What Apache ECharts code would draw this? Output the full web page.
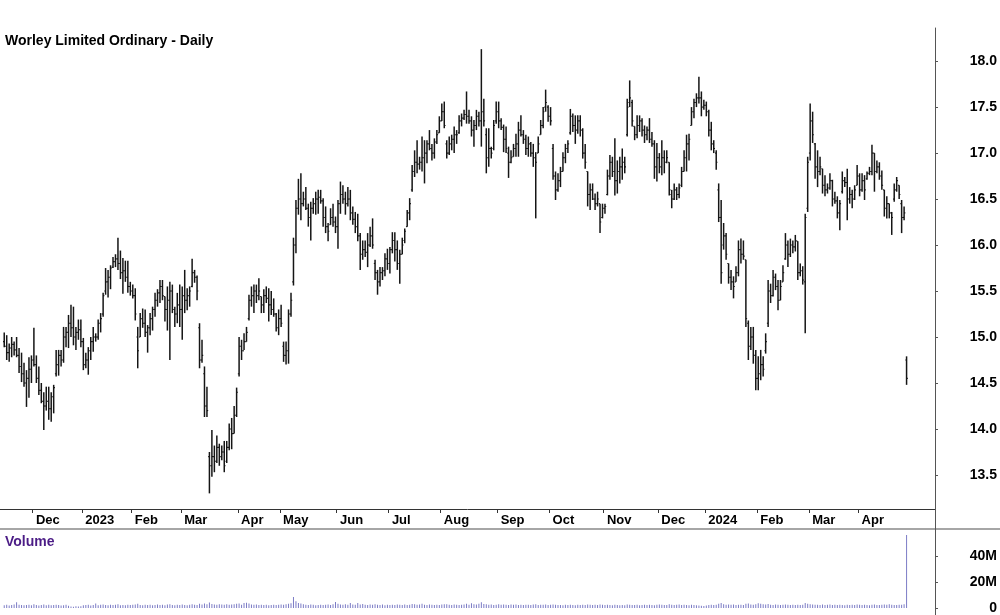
<!DOCTYPE html>
<html><head><meta charset="utf-8">
<script src="https://cdn.jsdelivr.net/npm/echarts@6/dist/echarts.min.js"></script>
<style>html,body{margin:0;padding:0;background:#fff}#c{width:1000px;height:615px}</style>
</head><body><div id="c"></div>
<script>
const chartTitle = 'Worley Limited Ordinary - Daily';
const volumeTitle = 'Volume';
const startDate = '2022-11-15';
const endDate = '2024-04-30';
const padDays = 11;
const holidays = ['2022-12-26','2022-12-27','2023-01-02','2023-01-26','2023-04-07','2023-04-10','2023-04-25','2023-06-12','2023-12-25','2023-12-26','2024-01-01','2024-01-26','2024-03-29','2024-04-01','2024-04-25'];
const monthNames = ['Jan','Feb','Mar','Apr','May','Jun','Jul','Aug','Sep','Oct','Nov','Dec'];
const priceTicks = [13.5,14.0,14.5,15.0,15.5,16.0,16.5,17.0,17.5,18.0];
const volumeTicks = [0,20000000,40000000];
const volumeTickLabels = ['0','20M','40M'];

const high = [
15.05,15.02,14.93,15.00,14.95,15.00,14.88,14.83,14.72,14.64,
14.78,14.80,15.10,14.80,14.68,14.50,14.40,14.46,14.46,14.40,
14.48,14.86,14.86,14.86,15.11,15.11,15.24,15.35,15.33,15.11,
15.19,15.19,14.99,14.83,14.89,15.00,15.11,15.04,15.19,15.26,
15.48,15.75,15.73,15.78,15.87,15.90,16.08,15.94,15.86,15.83,
15.83,15.60,15.57,15.53,15.11,15.26,15.31,15.30,15.13,15.26,
15.33,15.48,15.52,15.62,15.62,15.44,15.55,15.60,15.57,15.33,
15.48,15.57,15.55,15.73,15.53,15.55,15.85,15.73,15.67,15.15,
14.97,14.68,14.46,13.75,13.99,13.82,13.93,13.84,13.82,13.87,
13.87,14.06,14.12,14.25,14.45,15.00,14.97,15.04,15.11,15.46,
15.55,15.57,15.57,15.64,15.44,15.52,15.55,15.53,15.50,15.42,
15.26,15.30,15.35,14.95,14.95,15.30,15.48,16.08,16.49,16.72,
16.78,16.58,16.63,16.45,16.47,16.51,16.58,16.60,16.60,16.51,
16.42,16.24,16.40,16.45,16.31,16.49,16.69,16.65,16.58,16.63,
16.60,16.42,16.36,16.34,16.13,16.05,16.05,16.13,16.20,16.29,
15.84,15.73,15.76,15.76,15.91,15.96,15.98,16.14,16.14,16.05,
15.95,16.08,16.18,16.38,16.51,16.87,17.03,17.14,16.96,17.18,
17.14,17.14,17.25,17.10,17.16,17.25,17.40,17.54,17.56,17.14,
17.18,17.20,17.29,17.25,17.41,17.43,17.47,17.67,17.47,17.40,
17.36,17.47,17.45,18.13,17.59,17.27,17.27,17.07,17.36,17.56,
17.56,17.38,17.31,17.29,17.07,17.03,17.10,17.21,17.34,17.41,
17.25,17.20,17.18,17.12,17.10,17.01,17.18,17.36,17.50,17.69,
17.52,17.50,17.10,16.80,16.78,16.85,17.01,17.10,17.14,17.48,
17.43,17.41,17.41,17.41,17.27,17.10,16.80,16.67,16.67,16.56,
16.58,16.45,16.45,16.45,16.82,16.98,16.96,17.16,16.92,16.96,
17.05,16.96,17.59,17.79,17.58,17.29,17.41,17.41,17.38,17.30,
17.29,17.38,17.23,17.14,17.11,17.00,17.14,17.03,17.03,16.90,
16.60,16.67,16.63,16.67,16.85,17.03,17.20,17.21,17.50,17.59,
17.65,17.83,17.67,17.58,17.56,17.47,17.34,17.14,17.03,16.67,
16.49,16.24,16.13,15.80,15.73,15.66,15.77,16.05,16.07,16.05,
15.84,15.18,15.11,15.11,14.86,14.79,14.86,14.79,15.04,15.62,
15.58,15.73,15.69,15.62,15.62,15.78,16.13,16.05,16.07,16.05,
16.11,16.04,15.80,15.77,16.34,16.96,17.54,17.45,17.11,17.03,
16.96,16.83,16.76,16.67,16.78,16.71,16.58,16.53,16.49,16.80,
16.74,16.83,16.63,16.60,16.65,16.87,16.78,16.78,16.76,16.80,
16.85,17.09,17.00,16.92,16.90,16.81,16.60,16.53,16.45,16.36,
16.67,16.74,16.65,16.49,16.42,14.79];

const low = [
14.89,14.75,14.73,14.78,14.80,14.78,14.61,14.51,14.46,14.24,
14.34,14.50,14.68,14.50,14.37,14.28,13.99,14.20,14.10,14.08,
14.17,14.57,14.58,14.68,14.72,14.89,14.88,15.00,14.91,14.86,
14.97,14.89,14.64,14.66,14.59,14.75,14.84,14.95,14.97,15.05,
15.22,15.46,15.43,15.52,15.75,15.76,15.73,15.63,15.47,15.60,
15.48,15.45,15.42,15.18,14.66,15.00,15.10,15.00,14.83,15.02,
15.07,15.22,15.33,15.37,15.40,15.17,15.07,14.75,15.26,15.11,
15.15,15.11,14.97,15.26,15.29,15.33,15.54,15.59,15.40,14.66,
14.72,14.13,14.13,13.30,13.48,13.53,13.63,13.60,13.66,13.53,
13.63,13.77,13.78,13.95,14.13,14.57,14.75,14.86,14.95,15.18,
15.33,15.26,15.37,15.40,15.26,15.26,15.37,15.17,15.24,15.22,
15.06,15.02,15.11,14.73,14.70,14.71,15.22,15.56,15.91,16.33,
16.27,16.42,16.38,16.20,16.05,16.34,16.33,16.34,16.45,16.20,
16.13,16.04,16.22,16.20,16.13,15.96,16.34,16.45,16.33,16.42,
16.27,16.22,16.13,16.04,15.73,15.84,15.87,15.76,15.98,15.96,
15.62,15.46,15.55,15.62,15.66,15.73,15.69,15.91,15.82,15.73,
15.58,15.90,16.02,16.20,16.27,16.58,16.74,16.78,16.82,16.80,
16.67,16.89,17.03,16.92,16.94,17.10,17.22,17.35,17.27,16.94,
16.98,17.03,17.00,17.10,17.21,17.29,17.36,17.32,17.32,17.18,
17.07,17.25,17.29,17.07,17.29,16.78,16.85,16.94,17.03,17.32,
17.27,17.25,17.01,17.00,16.73,16.89,16.96,16.96,16.96,17.18,
17.10,16.98,16.96,16.96,16.85,16.29,17.00,17.20,17.27,17.45,
17.34,17.30,16.71,16.49,16.58,16.63,16.80,16.89,17.00,17.20,
17.23,17.10,17.21,17.18,16.94,16.83,16.42,16.38,16.49,16.38,
16.42,16.13,16.29,16.34,16.54,16.71,16.74,16.54,16.56,16.67,
16.71,16.78,17.18,17.50,17.29,17.14,17.16,17.23,17.18,17.11,
17.14,17.11,17.07,16.72,16.69,16.78,16.76,16.78,16.89,16.54,
16.40,16.49,16.49,16.51,16.63,16.80,16.80,16.92,17.30,17.38,
17.50,17.54,17.40,17.47,17.40,17.18,17.03,17.00,16.82,16.25,
15.58,15.95,15.84,15.58,15.51,15.42,15.60,15.66,15.80,15.84,
15.11,14.75,14.86,14.71,14.42,14.42,14.53,14.57,14.82,15.11,
15.37,15.44,15.51,15.29,15.40,15.60,15.84,15.76,15.87,15.91,
15.93,15.62,15.66,15.57,15.04,16.36,16.92,17.11,16.72,16.63,
16.76,16.56,16.53,16.56,16.60,16.42,16.45,16.29,16.16,16.56,
16.63,16.27,16.45,16.40,16.49,16.65,16.53,16.58,16.49,16.71,
16.76,16.76,16.58,16.78,16.71,16.60,16.31,16.29,16.29,16.11,
16.47,16.58,16.50,16.13,16.27,14.48];

const open = [
14.95,14.90,14.83,14.88,14.92,14.86,14.80,14.68,14.60,14.50,
14.55,14.65,14.75,14.70,14.55,14.42,14.30,14.25,14.30,14.22,
14.35,14.60,14.70,14.80,14.75,15.00,15.05,15.15,15.10,15.00,
15.05,15.08,14.95,14.70,14.75,14.85,14.95,15.00,15.00,15.15,
15.25,15.50,15.60,15.65,15.76,15.82,15.85,15.80,15.70,15.72,
15.65,15.55,15.50,15.45,15.00,15.00,15.20,15.15,15.05,15.10,
15.20,15.30,15.40,15.48,15.55,15.44,15.30,15.40,15.50,15.30,
15.25,15.35,15.30,15.45,15.40,15.45,15.55,15.70,15.65,15.10,
14.75,14.60,14.25,13.70,13.60,13.70,13.65,13.80,13.70,13.75,
13.65,13.80,14.00,13.95,14.15,14.60,14.90,14.85,14.95,15.20,
15.40,15.45,15.50,15.45,15.44,15.35,15.45,15.42,15.35,15.30,
15.25,15.10,15.20,14.90,14.80,14.85,15.25,15.60,16.00,16.40,
16.50,16.45,16.50,16.40,16.30,16.40,16.45,16.50,16.52,16.48,
16.30,16.20,16.22,16.30,16.25,16.20,16.45,16.55,16.50,16.45,
16.50,16.35,16.28,16.20,16.10,15.90,15.95,15.92,16.00,16.10,
15.80,15.70,15.60,15.70,15.72,15.85,15.80,15.95,16.05,15.95,
15.80,15.90,16.05,16.20,16.35,16.60,16.80,16.90,16.88,16.90,
16.95,17.00,17.10,17.05,17.00,17.12,17.22,17.35,17.45,17.10,
17.00,17.10,17.15,17.20,17.22,17.35,17.38,17.42,17.40,17.35,
17.25,17.30,17.40,17.35,17.45,17.20,16.95,17.05,17.05,17.35,
17.45,17.35,17.28,17.15,17.00,16.90,16.96,17.05,17.10,17.25,
17.20,17.15,17.05,17.10,17.00,16.95,17.00,17.20,17.30,17.50,
17.50,17.40,17.05,16.75,16.60,16.70,16.80,16.95,17.05,17.22,
17.40,17.30,17.25,17.35,17.25,17.00,16.80,16.55,16.60,16.50,
16.45,16.45,16.30,16.40,16.55,16.75,16.90,16.80,16.70,16.80,
16.85,16.90,17.20,17.55,17.55,17.29,17.20,17.30,17.35,17.25,
17.20,17.25,17.15,17.10,16.85,16.95,16.85,16.95,16.90,16.90,
16.55,16.50,16.60,16.55,16.65,16.80,16.95,17.10,17.30,17.45,
17.55,17.60,17.60,17.50,17.52,17.45,17.25,17.10,17.00,16.60,
16.30,16.00,16.10,15.80,15.65,15.60,15.60,15.70,15.95,15.90,
15.84,15.15,14.90,15.00,14.80,14.55,14.60,14.70,14.85,15.15,
15.50,15.45,15.65,15.55,15.40,15.60,15.85,16.00,15.90,16.00,
15.98,16.04,15.70,15.72,15.60,16.40,17.00,17.35,17.10,16.85,
16.80,16.83,16.65,16.60,16.62,16.70,16.50,16.48,16.35,16.58,
16.70,16.68,16.50,16.55,16.50,16.65,16.75,16.60,16.70,16.72,
16.78,16.80,17.00,16.80,16.85,16.75,16.60,16.40,16.45,16.35,
16.50,16.60,16.65,16.45,16.30,14.75];

const close = [
14.90,14.83,14.88,14.92,14.86,14.80,14.68,14.60,14.50,14.55,
14.65,14.75,14.70,14.55,14.42,14.30,14.25,14.30,14.22,14.35,
14.45,14.70,14.80,14.75,15.00,15.05,15.15,15.10,15.00,15.05,
15.08,14.95,14.70,14.75,14.85,14.95,15.00,15.00,15.15,15.20,
15.45,15.60,15.65,15.75,15.82,15.85,15.80,15.70,15.72,15.65,
15.55,15.50,15.45,15.25,14.85,15.20,15.15,15.05,15.10,15.20,
15.30,15.40,15.48,15.55,15.45,15.30,15.40,15.50,15.30,15.25,
15.35,15.30,15.45,15.40,15.45,15.50,15.70,15.65,15.50,14.75,
14.80,14.25,14.20,13.60,13.70,13.65,13.80,13.70,13.75,13.60,
13.80,14.00,13.95,14.15,14.40,14.90,14.85,14.95,15.05,15.40,
15.45,15.50,15.45,15.50,15.35,15.45,15.42,15.35,15.30,15.25,
15.10,15.20,15.15,14.80,14.85,15.25,15.40,16.00,16.40,16.50,
16.45,16.50,16.40,16.30,16.40,16.45,16.50,16.52,16.48,16.30,
16.20,16.15,16.30,16.25,16.20,16.45,16.55,16.50,16.45,16.50,
16.35,16.28,16.20,16.10,15.90,15.95,15.92,16.00,16.10,16.00,
15.70,15.60,15.70,15.72,15.85,15.80,15.95,16.05,15.95,15.80,
15.90,16.00,16.15,16.35,16.45,16.80,16.90,16.88,16.90,16.95,
17.00,17.10,17.05,17.00,17.12,17.20,17.35,17.45,17.30,17.00,
17.10,17.15,17.20,17.20,17.35,17.38,17.42,17.40,17.35,17.25,
17.30,17.40,17.35,17.45,17.35,16.95,17.05,17.00,17.30,17.45,
17.35,17.28,17.15,17.05,16.90,16.95,17.05,17.10,17.25,17.20,
17.15,17.05,17.10,17.00,16.95,16.90,17.10,17.30,17.45,17.55,
17.40,17.35,16.75,16.60,16.70,16.80,16.95,17.05,17.10,17.40,
17.30,17.25,17.35,17.25,17.00,16.90,16.55,16.60,16.50,16.45,
16.50,16.25,16.40,16.42,16.75,16.90,16.80,16.70,16.80,16.85,
16.90,16.85,17.50,17.60,17.35,17.20,17.30,17.35,17.25,17.20,
17.25,17.15,17.10,16.85,16.95,16.85,16.95,16.90,16.95,16.60,
16.50,16.60,16.55,16.62,16.80,16.95,17.10,17.15,17.45,17.55,
17.60,17.60,17.50,17.52,17.45,17.25,17.10,17.05,16.90,16.30,
15.70,16.10,15.90,15.65,15.60,15.55,15.70,15.95,15.90,15.88,
15.20,14.90,15.00,14.80,14.55,14.60,14.70,14.65,14.95,15.50,
15.45,15.65,15.55,15.40,15.55,15.70,16.00,15.90,16.00,15.98,
16.05,15.70,15.72,15.62,16.30,16.90,17.35,17.20,16.85,16.80,
16.85,16.65,16.60,16.62,16.70,16.50,16.48,16.35,16.45,16.70,
16.68,16.50,16.55,16.50,16.60,16.75,16.60,16.70,16.60,16.78,
16.80,17.00,16.80,16.85,16.75,16.65,16.40,16.45,16.35,16.30,
16.60,16.70,16.55,16.30,16.35,14.55];

// volume in millions of shares
const volumeM = [
2.2,2.5,2.0,2.4,2.8,4.5,2.6,2.3,2.1,2.4,
2.6,2.2,2.9,2.3,2.0,2.4,2.7,2.2,2.5,2.1,
2.3,2.6,2.4,2.0,2.2,2.5,1.8,1.2,1.0,1.3,
1.1,1.4,2.2,2.4,2.6,2.0,2.3,3.4,2.2,2.5,
2.8,2.4,2.2,2.6,2.3,2.5,2.9,2.1,2.4,2.2,
2.6,2.3,2.5,2.8,3.2,2.4,2.2,2.6,2.3,2.5,
2.1,2.4,2.7,2.3,2.5,2.2,2.8,3.0,2.4,2.2,
2.6,2.3,2.7,2.4,2.2,2.5,2.9,2.6,2.4,3.3,
2.8,3.5,2.9,4.2,3.1,2.8,2.6,3.0,2.7,2.5,
2.9,2.6,2.8,3.0,3.2,3.4,2.6,3.8,4.0,3.5,
2.7,2.5,2.8,2.4,2.6,2.3,2.5,2.2,2.4,2.6,
2.3,2.5,2.8,2.6,3.0,3.2,3.6,8.5,5.2,3.8,
3.4,2.9,2.6,2.4,2.8,2.5,2.2,2.4,2.6,2.3,
2.5,2.8,2.4,3.0,4.6,3.2,2.7,2.5,2.9,2.6,
3.8,2.8,2.5,3.9,2.7,3.1,2.6,2.4,2.8,2.5,
3.0,2.6,2.4,2.7,2.2,2.5,2.3,2.6,2.4,2.8,
2.5,2.3,2.7,2.4,2.6,3.1,2.9,2.5,2.7,3.2,
2.6,2.4,2.8,2.5,2.3,2.6,2.4,2.8,3.0,2.9,
2.6,2.4,2.7,2.5,2.3,2.6,2.8,3.2,2.5,3.6,
3.0,2.8,3.3,4.4,3.1,2.9,2.6,2.7,2.4,2.6,
2.9,2.5,2.7,2.6,2.4,2.8,2.5,2.7,2.3,2.6,
2.4,2.6,2.5,2.3,2.7,2.9,2.4,2.6,2.5,2.7,
2.4,2.6,2.8,2.5,2.3,2.4,2.2,2.5,2.3,2.6,
2.4,2.2,2.5,2.3,2.6,2.4,2.8,2.5,2.3,2.6,
2.4,2.7,2.5,2.3,2.6,2.4,2.2,2.5,2.3,2.1,
2.4,2.2,2.8,2.6,2.4,2.3,2.5,2.2,2.4,2.6,
2.3,2.5,2.4,2.2,2.6,2.8,2.5,2.3,2.4,2.9,
2.6,2.4,2.5,2.7,2.3,2.5,2.4,2.2,2.6,2.4,
2.2,2.0,1.8,1.6,1.9,2.3,2.5,2.4,2.6,3.2,
3.8,2.9,2.6,2.8,2.5,2.7,2.4,2.6,2.5,2.3,
3.2,3.4,2.8,2.6,3.0,3.6,3.3,2.9,2.7,3.1,
2.6,2.4,2.8,2.5,2.3,2.6,2.8,2.5,2.4,2.6,
2.3,2.5,2.4,2.6,3.8,3.2,3.0,2.8,2.6,2.5,
2.4,2.7,2.3,2.5,2.8,2.4,2.6,2.3,2.5,2.4,
2.2,2.6,2.3,2.5,2.4,2.7,2.5,2.3,2.6,2.4,
2.2,2.5,2.7,2.4,2.3,2.6,2.8,2.5,3.0,2.6,
2.4,2.3,2.5,2.6,2.9,56.5];

// ---- trading-day categories (weekdays minus exchange holidays) ----
function ymd(d){return d.toISOString().slice(0,10);}
function buildDays(from, to, extra){
  const out=[]; const d=new Date(from+'T00:00:00Z'); const endT=new Date(to+'T00:00:00Z').getTime();
  let pad=0;
  while(true){
    const wd=d.getUTCDay(); const s=ymd(d);
    if(wd!==0 && wd!==6 && holidays.indexOf(s)<0){
      if(d.getTime()<=endT) out.push(s); else { if(pad>=extra) break; out.push(s); pad++; }
    }
    d.setUTCDate(d.getUTCDate()+1);
  }
  return out;
}
const dates = buildDays(startDate, endDate, padDays);
const nData = high.length;
const isMonthStart = dates.map((s,i)=> i>0 && i<nData && s.slice(0,7)!==dates[i-1].slice(0,7));
function monthLabel(s){const m=+s.slice(5,7)-1; return m===0 ? s.slice(0,4) : monthNames[m];}

const ohlc = high.map((h,i)=>[i, open[i], h, low[i], close[i]]);
const volume = volumeM.map(v=>v*1e6);

const FONT='"Liberation Sans", Arial, Helvetica, sans-serif';
const chart = echarts.init(document.getElementById('c'), null, {renderer:'canvas'});
chart.setOption({
  animation:false,
  backgroundColor:'#ffffff',
  grid:[{left:3,right:65,top:28,bottom:106},{left:3,right:65,top:530,bottom:5}],
  xAxis:[
    {type:'category',gridIndex:0,data:dates,boundaryGap:true,
     axisLine:{show:false},
     axisTick:{show:true,interval:(i)=>isMonthStart[i],length:4,lineStyle:{color:'#333',width:1}},
     axisLabel:{interval:(i)=>isMonthStart[i],formatter:monthLabel,align:'left',padding:[0,0,0,2],margin:5,
       color:'#000',fontWeight:'bold',fontSize:13,fontFamily:FONT},
     splitLine:{show:false}},
    {type:'category',gridIndex:1,data:dates,boundaryGap:true,
     axisLine:{show:false},axisTick:{show:false},axisLabel:{show:false},splitLine:{show:false}}
  ],
  yAxis:[
    {type:'value',gridIndex:0,position:'right',min:13.13,max:18.36,
     axisLine:{show:true,lineStyle:{color:'#555',width:1}},
     axisTick:{show:true,customValues:priceTicks,length:3,lineStyle:{color:'#555'}},
     axisLabel:{customValues:priceTicks,formatter:(v)=>(+v).toFixed(1),align:'right',margin:62,
       color:'#000',fontWeight:'bold',fontSize:14,fontFamily:FONT},
     splitLine:{show:false}},
    {type:'value',gridIndex:1,position:'right',min:0,max:60400000,
     axisLine:{show:true,lineStyle:{color:'#555',width:1}},
     axisTick:{show:true,customValues:volumeTicks,length:3,lineStyle:{color:'#555'}},
     axisLabel:{customValues:volumeTicks,formatter:(v)=>{const k=volumeTicks.indexOf(+v);return k>=0?volumeTickLabels[k]:'';},
       align:'right',margin:62,color:'#000',fontWeight:'bold',fontSize:14,fontFamily:FONT},
     splitLine:{show:false}}
  ],
  graphic:[
    {type:'line',shape:{x1:0,y1:509.5,x2:935,y2:509.5},style:{stroke:'#333',lineWidth:1},z:50},
    {type:'line',shape:{x1:0,y1:529,x2:1000,y2:529},style:{stroke:'#888',lineWidth:1.5},z:50},
    {type:'line',shape:{x1:935.5,y1:505,x2:935.5,y2:615},style:{stroke:'#555',lineWidth:1},z:50},
    {type:'text',left:5,top:34,style:{text:chartTitle,font:'bold 14px '+FONT,fill:'#000'},z:60},
    {type:'text',left:5,top:535,style:{text:volumeTitle,font:'bold 14px '+FONT,fill:'#4b1c86'},z:60}
  ],
  series:[
    {type:'custom',xAxisIndex:0,yAxisIndex:0,data:ohlc,encode:{x:0,y:[1,2,3,4]},
     renderItem:function(params,api){
       const idx=api.value(0);
       const x=api.coord([idx,api.value(2)])[0];
       const yh=api.coord([idx,api.value(2)])[1];
       const yl=api.coord([idx,api.value(3)])[1];
       const yo=api.coord([idx,api.value(1)])[1];
       const yc=api.coord([idx,api.value(4)])[1];
       const w=api.size([1,0])[0]; const t=w*0.5;
       const st={stroke:'#151515',lineWidth:1.5};
       const st2={stroke:'#151515',lineWidth:1.1};
       return {type:'group',children:[
         {type:'line',shape:{x1:x,y1:yh,x2:x,y2:yl},style:st},
         {type:'line',shape:{x1:x-t,y1:yo,x2:x,y2:yo},style:st2},
         {type:'line',shape:{x1:x,y1:yc,x2:x+t,y2:yc},style:st2}
       ]};
     }},
    {type:'bar',xAxisIndex:1,yAxisIndex:1,data:volume,barWidth:1,itemStyle:{color:'#7c7cc6'},silent:true}
  ]
});
</script>
</body></html>
